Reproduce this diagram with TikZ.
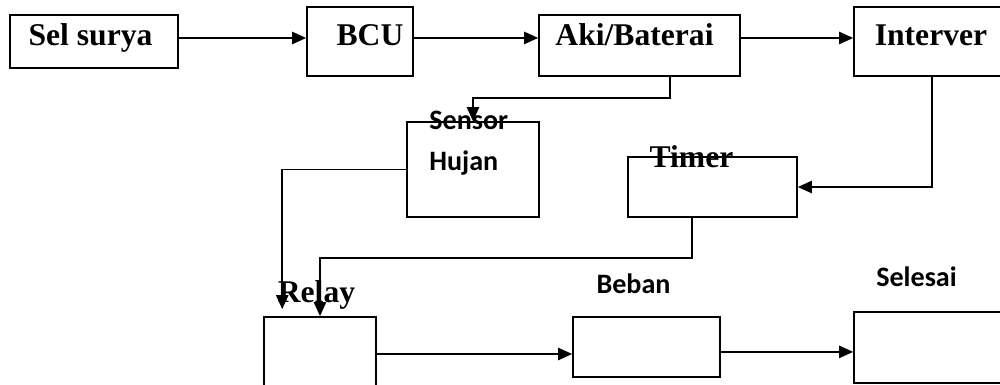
\documentclass[tikz,border=0pt]{standalone}
\usepackage{fontspec}
\setmainfont{Liberation Serif}
\newfontfamily\calib{Carlito}
\usetikzlibrary{arrows.meta, positioning, calc}

\begin{document}
\begin{tikzpicture}[x=0.02cm, y=-0.02cm]
\tikzset{
  blok/.style={rectangle,draw=black,line width=1pt,inner sep=0pt},
  ser/.style={font=\fontsize{18}{20}\selectfont\bfseries,inner sep=0pt,anchor=base},
  san/.style={font=\calib\fontsize{16}{18}\selectfont\bfseries,inner sep=0pt,anchor=base},
  ar/.style={-{Triangle[length=8pt,width=7pt]},line width=1pt,draw=black}
}
\useasboundingbox (0,0) rectangle (1000,385);
\clip (0,0) rectangle (1000,385);
% ---- boxes
\node[blok,minimum width=3.36cm,minimum height=1.06cm] (sel) at (94,41.5) {};
\node[blok,minimum width=2.12cm,minimum height=1.38cm] (bcu) at (360,41.5) {};
\node[blok,minimum width=4.02cm,minimum height=1.22cm] (aki) at (639.5,45.5) {};
\node[blok,minimum width=3.12cm,minimum height=1.38cm] (inv) at (932,41.5) {};
\node[blok,minimum width=2.64cm,minimum height=1.9cm]  (sen) at (473,169.5) {};
\node[blok,minimum width=3.38cm,minimum height=1.2cm]  (tim) at (712.5,187) {};
\node[blok,minimum width=2.24cm,minimum height=1.48cm] (rel) at (320,354) {};
\node[blok,minimum width=2.94cm,minimum height=1.2cm]  (beb) at (646.5,347) {};
\node[blok,minimum width=3.12cm,minimum height=1.42cm] (sls) at (932,347.5) {};
% ---- arrows
\draw[ar] ([yshift=2pt]sel.east) -- ([yshift=2pt]bcu.west);
\draw[ar] ([yshift=2pt]bcu.east) -- ([yshift=4.3pt]aki.west);
\draw[ar] ([yshift=4.3pt]aki.east) -- ([yshift=2pt]inv.west);
\draw[ar] ([xshift=17.3pt]aki.south) -- ++(0,21) -| (sen.north);
\draw[ar] (inv.south) |- (tim.east);
\draw[ar] (sen.west) -| ([xshift=-21.5pt,yshift=4pt]rel.north);
\draw[ar] ([xshift=-11.6pt]tim.south) -- ++(0,40) -| (rel.north);
\draw[ar] (rel.east) -- (rel.east -| beb.west);
\draw[ar] ([yshift=-2.8pt]beb.east) -- ([yshift=-2.5pt]sls.west);
% ---- labels
\node[ser] (tsel) at (90.5,45.5) {Sel surya};
\node[ser] (tbcu) at (370,45.5) {BCU};
\node[ser] (taki) at (634.5,45.5) {Aki/Baterai};
\node[ser] (tinv) at (931,45.5) {Interver};
\node[san,anchor=base west] (tsen) at (429,130) {Sensor};
\node[san,anchor=base west] (thuj) at (429,170.5) {Hujan};
\node[ser] (ttim) at (691.5,167) {Timer};
\node[ser] (trel) at (316.5,302) {Relay};
\node[san] (tbeb) at (633.5,293) {Beban};
\node[san] (tsls) at (916.5,286.5) {Selesai};
\end{tikzpicture}
\end{document}
